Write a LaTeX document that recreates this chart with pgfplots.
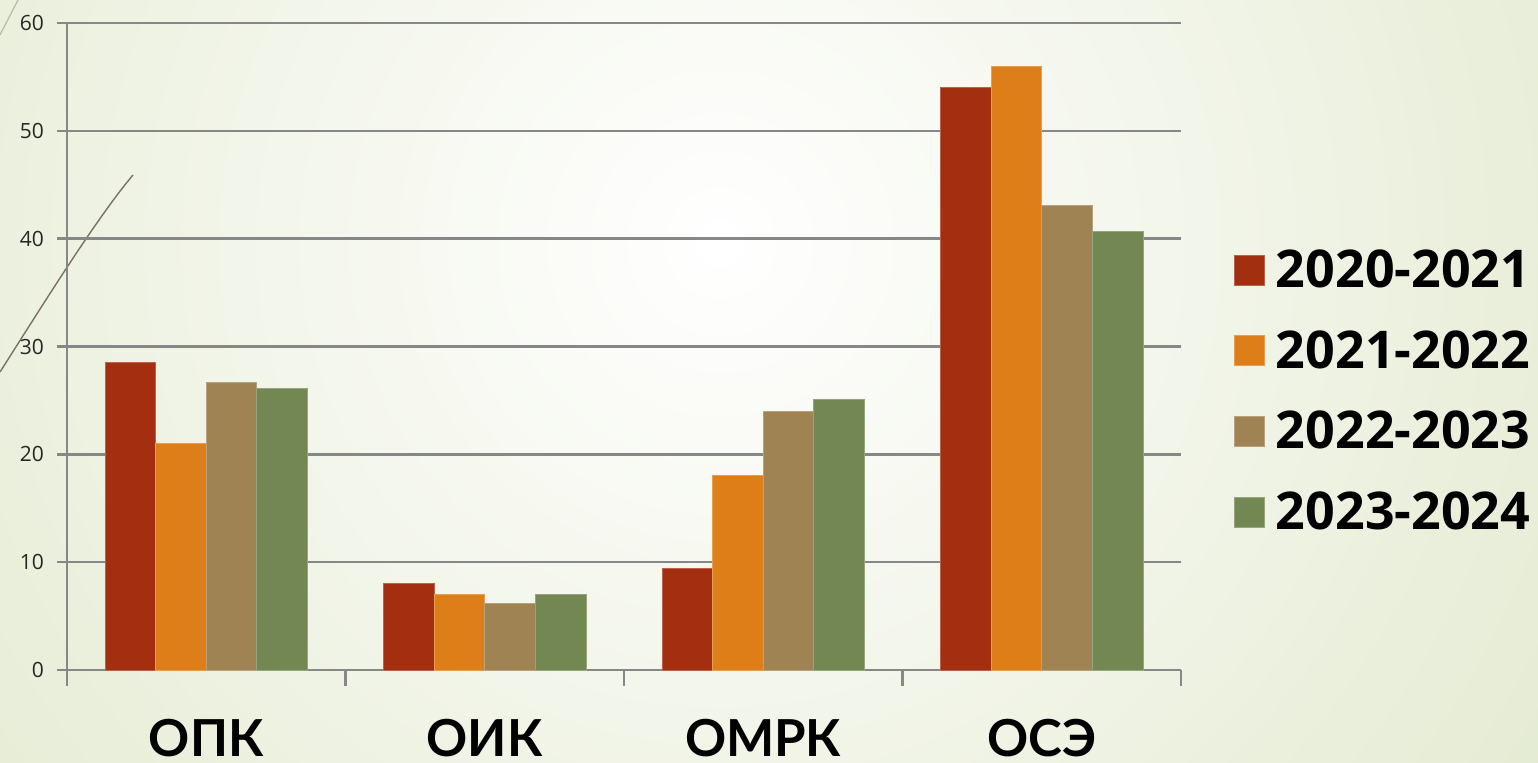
\documentclass[border=0pt]{standalone}
\usepackage{pgfplots}
\pgfplotsset{compat=1.18}
\usepackage{fontspec}
\setmainfont{Open Sans}
\newfontfamily\catfont{Lato}
\definecolor{c1}{HTML}{A42E10}
\definecolor{c2}{HTML}{DE7E18}
\definecolor{c3}{HTML}{9F8352}
\definecolor{c4}{HTML}{738753}
\definecolor{gridc}{HTML}{878787}
\definecolor{bgout}{HTML}{E3EAD0}
\definecolor{curvec}{HTML}{7A7261}
\tikzset{catlabel/.style={font=\catfont\bfseries\fontsize{25.5}{30}\selectfont, text=black, anchor=base, yshift=-43.5pt, inner sep=0pt}}
\begin{document}
\begin{tikzpicture}
\useasboundingbox (0,0) rectangle (769pt,381.5pt);
\begin{scope}
\clip (0,0) rectangle (769pt,381.5pt);
\fill[bgout] (0,0) rectangle (769pt,381.5pt);
\shade[inner color=white, outer color=bgout] (360pt,260pt) circle (520pt);
\draw[curvec, line width=0.7pt] (0pt,195.5pt) .. controls (22pt,230pt) and (48pt,272pt) .. (66.5pt,294pt);
\draw[curvec!40!bgout, line width=0.6pt] (0pt,364pt) -- (9pt,381.5pt);
\end{scope}
\begin{axis}[
  at={(33.5pt,46.5pt)}, anchor=south west,
  scale only axis, width=557pt, height=323.5pt,
  clip=false,
  ybar=0pt, bar width=25.3pt,
  enlargelimits=false,
  xmin=-0.5, xmax=3.5, ymin=0, ymax=60,
  xtick={-0.5,0.5,1.5,2.5,3.5},
  xticklabels={},
  ytick=\empty,
  extra y ticks={0,10,20,30,40,50,60},
  extra y tick style={major tick length=5pt, grid=major},
  major tick style={draw=gridc, line width=1.2pt},
  major tick length=8pt, tick align=outside,
  axis lines*=left,
  axis line style={draw=gridc, line width=1.2pt},
  grid style={draw=gridc, line width=1.2pt},
  /pgf/number format/assume math mode=true,
  yticklabel style={font=\fontsize{10.5}{12}\selectfont, text={black!85}, xshift=-3pt},
  legend style={at={(1.042,0.431)}, anchor=west, draw=none, fill=none,
    font=\bfseries\fontsize{26}{30}\selectfont, row sep=16pt,
    /tikz/every odd column/.append style={column sep=3.5pt}},
  legend cell align=left,
  legend image code/.code={\fill[#1] (-2pt,-7.5pt) rectangle (13pt,7.5pt);},
]
\addplot[fill=c1, draw=c1!75!white, line width=0.4pt] coordinates {(0,28.5) (1,8) (2,9.4) (3,54)};
\addplot[fill=c2, draw=c2!75!white, line width=0.4pt] coordinates {(0,21) (1,7) (2,18) (3,56)};
\addplot[fill=c3, draw=c3!75!white, line width=0.4pt] coordinates {(0,26.7) (1,6.2) (2,24) (3,43.1)};
\addplot[fill=c4, draw=c4!75!white, line width=0.4pt] coordinates {(0,26.1) (1,7) (2,25.1) (3,40.7)};
\legend{2020-2021,2021-2022,2022-2023,2023-2024}
\node[catlabel] at (axis cs:0,0) {ОПК};
\node[catlabel] at (axis cs:1,0) {ОИК};
\node[catlabel] at (axis cs:2,0) {ОМРК};
\node[catlabel] at (axis cs:3,0) {ОСЭ};
\end{axis}
\end{tikzpicture}
\end{document}
